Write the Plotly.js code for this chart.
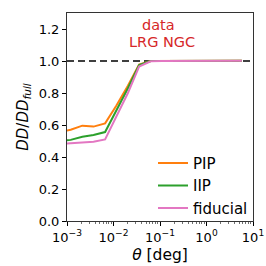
<!DOCTYPE html>
<html>
<head>
<meta charset="utf-8">
<script src="https://cdn.plot.ly/plotly-3.0.1.min.js"></script>
<style>html,body{margin:0;padding:0;background:#fff;}#chart{width:266px;height:266px;}</style>
</head>
<body>
<div id="chart"></div>
<script>
// theta bins [deg]
const theta = [0.00069, 0.0012, 0.00214, 0.00372, 0.0066, 0.01148, 0.0204, 0.0355, 0.0631, 0.1096, 0.195, 0.339, 0.603, 1.047, 1.862, 3.236, 5.754];
const pip      = [0.555, 0.57, 0.596, 0.59, 0.61, 0.72, 0.845, 0.978, 1.0, 1.0, 1.0, 1.0, 1.0, 1.0, 1.002, 1.002, 1.002];
const iip      = [0.50, 0.507, 0.527, 0.537, 0.556, 0.69, 0.83, 0.975, 1.0, 1.0, 1.0, 1.0, 1.0, 1.0, 1.002, 1.002, 1.002];
const fiducial = [0.482, 0.486, 0.49, 0.495, 0.51, 0.65, 0.80, 0.965, 0.998, 1.0, 1.0, 1.0, 1.0, 1.0, 1.001, 1.001, 1.001];
const refLineX = [0.001, 10];
const refLineY = [1.0, 1.0];
const xTickVals = [0.001, 0.01, 0.1, 1, 10];
const xTickText = ["10<sup>−3</sup>", "10<sup>−2</sup>", "10<sup>−1</sup>", "10<sup>0</sup>", "10<sup>1</sup>"];
const xMinorVals = [];
[0.001, 0.01, 0.1, 1].forEach(d => { for (let m = 2; m <= 9; m++) xMinorVals.push(d * m); });
const yTickVals = [0, 0.2, 0.4, 0.6, 0.8, 1.0, 1.2];
const yTickText = ["0.0", "0.2", "0.4", "0.6", "0.8", "1.0", "1.2"];

const font = "DejaVu Sans, sans-serif";
const traces = [
  {x: refLineX, y: refLineY, mode: 'lines', line: {color: '#000', width: 1.6, dash: '7px,4px'}, showlegend: false, hoverinfo: 'skip'},
  {x: theta, y: pip, mode: 'lines', name: 'PIP', line: {color: '#ff7f0e', width: 2}},
  {x: theta, y: iip, mode: 'lines', name: 'IIP', line: {color: '#2ca02c', width: 2}},
  {x: theta, y: fiducial, mode: 'lines', name: 'fiducial', line: {color: '#e377c2', width: 2}}
];
const layout = {
  width: 266, height: 266,
  margin: {l: 67, r: 13, t: 13, b: 45},
  paper_bgcolor: '#fff', plot_bgcolor: '#fff',
  font: {family: font, size: 13, color: '#000'},
  showlegend: true,
  legend: {x: 1.0, xanchor: 'right', y: -0.018, yanchor: 'bottom', bgcolor: 'rgba(0,0,0,0)', font: {size: 15}, tracegroupgap: 0},
  xaxis: {
    type: 'log', range: [-3, 1], tickmode: 'array', tickvals: xTickVals, ticktext: xTickText,
    ticks: 'outside', ticklen: 4, tickcolor: '#000', showgrid: false, zeroline: false,
    showline: true, linecolor: '#333', linewidth: 1, mirror: true,
    minor: {tickmode: 'array', tickvals: xMinorVals, ticks: 'outside', ticklen: 2, tickwidth: 0.7, tickcolor: '#333', showgrid: false},
    title: {text: '<i>θ</i> [deg]', font: {size: 15.5}, standoff: 5},
    tickfont: {size: 13}
  },
  yaxis: {
    range: [0, 1.3], tickvals: yTickVals, ticktext: yTickText,
    ticks: 'outside', ticklen: 4, tickcolor: '#000', showgrid: false, zeroline: false,
    showline: true, linecolor: '#333', linewidth: 1, mirror: true,
    title: {text: '<i>DD</i>/<i>DD</i><sub><i>full</i></sub>', font: {size: 15}, standoff: 6},
    tickfont: {size: 13}
  },
  annotations: [
    {xref: 'paper', yref: 'paper', x: 0.494, y: 0.942, text: 'data', showarrow: false,
     font: {size: 14.5, color: '#d62728'}, yanchor: 'middle'},
    {xref: 'paper', yref: 'paper', x: 0.51, y: 0.861, text: 'LRG NGC', showarrow: false,
     font: {size: 14.5, color: '#d62728'}, yanchor: 'middle'}
  ]
};
Plotly.newPlot('chart', traces, layout, {staticPlot: true, displayModeBar: false});
</script>
</body>
</html>
